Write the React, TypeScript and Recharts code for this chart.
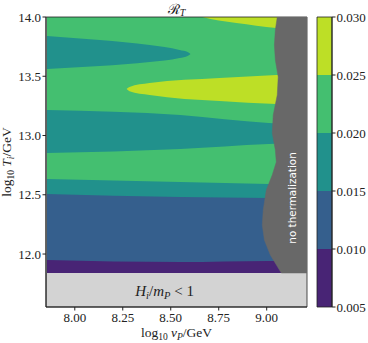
import { ComposedChart, Area, Scatter, XAxis, YAxis, ReferenceArea, ReferenceDot } from 'recharts';

// contour levels of R_T and the viridis colour of each filled band
const levels = [0.005, 0.01, 0.015, 0.02, 0.025, 0.03];
const bandColors = ['#482475', '#355f8d', '#21918c', '#44bf70', '#bddf26'];

const xTicks = [8.0, 8.25, 8.5, 8.75, 9.0];
const yTicks = [12.0, 12.5, 13.0, 13.5, 14.0];

// log10 T_i where H_i/m_P < 1 starts, and the top of the scan
const floorT = 11.84;
const topT = 14.0;

// nearly straight band edges, sampled along log10 vP
const vPGrid = [7.855, 8.55, 9.01, 9.21];
const edge010 = [11.949, 11.932, 11.941, 11.94];
const edge015 = [12.506, 12.481, 12.473, 12.47];
const edge020a = [12.633, 12.608, 12.591, 12.58];
const edge020b = [12.852, 12.886, 12.928, 12.94];
const edge020c = [13.215, 13.173, 13.105, 13.09];

// 0.015-0.020 tongue near the top
const tealTongueVP = [7.855, 8.13, 8.39, 8.546, 8.59, 8.603];
const tealTongueLo = [13.561, 13.586, 13.62, 13.654, 13.674, 13.688];
const tealTongueHi = [13.84, 13.806, 13.764, 13.722, 13.703, 13.688];

// 0.025-0.030 tongue in the middle
const yellowTongueVP = [8.27, 8.285, 8.39, 8.754, 9.05, 9.21];
const yellowTongueLo = [13.392, 13.374, 13.342, 13.291, 13.266, 13.255];
const yellowTongueHi = [13.392, 13.41, 13.443, 13.485, 13.511, 13.52];

// 0.025-0.030 wedge at the top right
const wedgeVP = [8.665, 8.75, 8.842, 9.05, 9.21];
const wedgeLo = [14.0, 13.97, 13.949, 13.907, 13.89];

// edge of the "no thermalization" region
const noThermT = [14.0, 13.89, 13.764, 13.637, 13.494, 13.342, 13.173, 13.021, 12.878, 12.776, 12.667, 12.54, 12.371, 12.245, 12.118, 11.992, 11.84];
const noThermVP = [9.055, 9.045, 9.04, 9.045, 9.06, 9.055, 9.034, 9.029, 9.045, 9.05, 9.029, 8.998, 8.982, 8.977, 8.988, 9.019, 9.076];

const xDomain = [7.85, 9.21];
const yDomain = [11.553, 14.0];

const serif = "'Liberation Serif', 'DejaVu Serif', serif";
const ink = '#222';
const tickSize = 13;
const labelSize = 13.5;

const band = (xs: number[], lo: number[] | number, hi: number[] | number) =>
  xs.map((x, i) => ({
    x,
    band: [typeof lo === 'number' ? lo : lo[i], typeof hi === 'number' ? hi : hi[i]],
  }));

const layers = [
  { data: band(vPGrid, floorT, topT), color: bandColors[3] },
  { data: band(vPGrid, floorT, edge020a), color: bandColors[2] },
  { data: band(vPGrid, floorT, edge015), color: bandColors[1] },
  { data: band(vPGrid, floorT, edge010), color: bandColors[0] },
  { data: band(vPGrid, edge020b, edge020c), color: bandColors[2] },
  { data: band(yellowTongueVP, yellowTongueLo, yellowTongueHi), color: bandColors[4] },
  { data: band(tealTongueVP, tealTongueLo, tealTongueHi), color: bandColors[2] },
  { data: band(wedgeVP, wedgeLo, topT), color: bandColors[4] },
];

const noThermData = [
  ...noThermT.map((t, i) => ({ x: noThermVP[i], y: t })),
  { x: xDomain[1], y: floorT },
  { x: xDomain[1], y: topT },
];

// colour bar: one row at each end of a dummy x range, each band a range area
const colorbarData = [0, 1].map((c) => {
  const row: any = { c };
  bandColors.forEach((_, i) => { row['b' + i] = [levels[i], levels[i + 1]]; });
  return row;
});

const XTick = ({ x, y, payload }: any) => (
  <text x={x} y={y} dy="0.75em" textAnchor="middle" fontFamily={serif} fontSize={tickSize} fill={ink}>
    {payload.value.toFixed(2)}
  </text>
);

const YTick = ({ x, y, payload }: any) => (
  <text x={x} y={y} dy="0.35em" textAnchor="end" fontFamily={serif} fontSize={tickSize} fill={ink}>
    {payload.value.toFixed(1)}
  </text>
);

const CTick = ({ x, y, payload }: any) => (
  <text x={x} y={y} dy="0.35em" textAnchor="start" fontFamily={serif} fontSize={tickSize} fill={ink}>
    {payload.value.toFixed(3)}
  </text>
);

const XLabel = ({ viewBox }: any) => {
  const cx = viewBox.x + viewBox.width / 2;
  return (
    <text x={cx} y={viewBox.y + 30} textAnchor="middle" fontFamily={serif} fontSize={labelSize} fill={ink}>
      log<tspan fontSize={9.5} dy={3}>10</tspan>
      <tspan dy={-3}> </tspan>
      <tspan fontStyle="italic">v</tspan>
      <tspan fontSize={9.5} dy={2.5} fontStyle="italic">P</tspan>
      <tspan dy={-2.5}>/GeV</tspan>
    </text>
  );
};

const YLabel = ({ viewBox }: any) => {
  const x = 11;
  const y = viewBox.y + viewBox.height / 2;
  return (
    <text x={x} y={y} transform={`rotate(-90 ${x} ${y})`} textAnchor="middle" fontFamily={serif} fontSize={labelSize} fill={ink}>
      log<tspan fontSize={9.5} dy={3}>10</tspan>
      <tspan dy={-3}> </tspan>
      <tspan fontStyle="italic">T</tspan>
      <tspan fontSize={9.5} dy={2.5} fontStyle="italic">i</tspan>
      <tspan dy={-2.5}>/GeV</tspan>
    </text>
  );
};

const TitleLabel = ({ viewBox }: any) => {
  const cx = viewBox.x + viewBox.width / 2;
  return (
    <text x={cx} y={viewBox.y - 2} textAnchor="middle" fontFamily={serif} fontSize={14} fill={ink}>
      ℛ<tspan fontSize={10} dy={2} fontStyle="italic">T</tspan>
    </text>
  );
};

const NoThermLabel = ({ viewBox }: any) => {
  const x = viewBox.x + viewBox.width / 2;
  const y = viewBox.y + viewBox.height / 2;
  return (
    <text x={x} y={y} transform={`rotate(-90 ${x} ${y})`} textAnchor="middle" dominantBaseline="central"
      fill="#fff" fontSize={10.4} fontFamily="'DejaVu Sans', sans-serif">
      no thermalization
    </text>
  );
};

const HubbleLabel = ({ viewBox }: any) => {
  const x = viewBox.x + viewBox.width / 2;
  const y = viewBox.y + viewBox.height / 2;
  return (
    <text x={x} y={y + 4} textAnchor="middle" fontFamily={serif} fontSize={15} fill={ink}>
      <tspan fontStyle="italic">H</tspan>
      <tspan fontSize={10.5} dy={3} fontStyle="italic">i</tspan>
      <tspan dy={-3}>/</tspan>
      <tspan fontStyle="italic">m</tspan>
      <tspan fontSize={10.5} dy={3} fontStyle="italic">P</tspan>
      <tspan dy={-3}> &lt; 1</tspan>
    </text>
  );
};

export default function App() {
  return (
    <div style={{ position: 'absolute', left: 0, top: 0, width: 368, height: 343, background: '#fff', fontFamily: serif }}>
      <div style={{ position: 'absolute', left: 0, top: 0 }}>
        <ComposedChart width={368} height={343} margin={{ top: 17, right: 61, bottom: 0, left: 0 }}>
          <XAxis dataKey="x" type="number" domain={xDomain} ticks={xTicks} allowDataOverflow
            height={36} tickSize={3.5} tickMargin={2} stroke={ink} tick={<XTick />} label={XLabel} />
          <YAxis type="number" domain={yDomain} ticks={yTicks} allowDataOverflow
            width={46} tickSize={3.5} tickMargin={1.5} stroke={ink} tick={<YTick />} label={YLabel} />
          {layers.map((l, i) => (
            <Area key={i} data={l.data} dataKey="band" type="monotone" fill={l.color} fillOpacity={1}
              stroke="none" dot={false} activeDot={false} isAnimationActive={false} />
          ))}
          <ReferenceArea x1={xDomain[0]} x2={xDomain[1]} y1={yDomain[0]} y2={floorT}
            fill="#d3d3d3" fillOpacity={1} stroke="none" />
          <Scatter data={noThermData} dataKey="y" fill="#686868" shape={() => <g />}
            line={{ fill: '#686868', stroke: '#686868', strokeWidth: 0.5 }} isAnimationActive={false} />
          <ReferenceArea x1={xDomain[0]} x2={xDomain[1]} y1={yDomain[0]} y2={yDomain[1]}
            fill="none" fillOpacity={0} stroke={ink} strokeWidth={0.8} />
          <ReferenceDot x={9.133} y={12.473} r={1} fill="none" stroke="none" label={NoThermLabel} />
          <ReferenceDot x={8.468} y={11.679} r={1} fill="none" stroke="none" label={HubbleLabel} />
          <ReferenceDot x={(xDomain[0] + xDomain[1]) / 2} y={topT} r={1} fill="none" stroke="none" label={TitleLabel} />
        </ComposedChart>
      </div>
      <div style={{ position: 'absolute', left: 0, top: 0 }}>
        <ComposedChart width={368} height={343} margin={{ top: 17, right: 0, bottom: 36, left: 317 }}
          data={colorbarData}>
          <XAxis dataKey="c" type="number" domain={[0, 1]} hide />
          <YAxis orientation="right" type="number" domain={[levels[0], levels[levels.length - 1]]}
            ticks={levels} width={36} tickSize={3.5} tickMargin={1} stroke={ink} tick={<CTick />} />
          {bandColors.map((c, i) => (
            <Area key={i} dataKey={'b' + i} type="linear" fill={c} fillOpacity={1} stroke="none"
              dot={false} activeDot={false} isAnimationActive={false} />
          ))}
          <ReferenceArea x1={0} x2={1} y1={levels[0]} y2={levels[levels.length - 1]}
            fill="none" fillOpacity={0} stroke={ink} strokeWidth={0.8} />
        </ComposedChart>
      </div>
    </div>
  );
}
